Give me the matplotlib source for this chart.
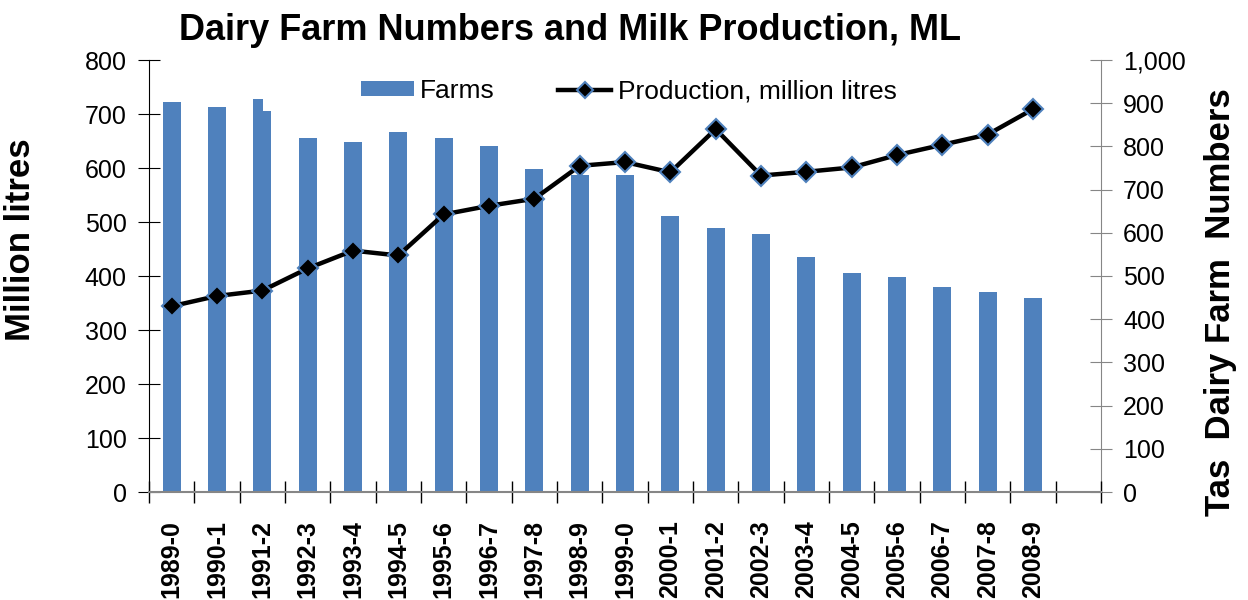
import matplotlib
matplotlib.use("Agg")
import matplotlib.pyplot as plt
from matplotlib.lines import Line2D
from matplotlib.patches import Patch
import numpy as np

plt.rcParams['font.family'] = ['Liberation Sans', 'DejaVu Sans']

years = ["1989-0", "1990-1", "1991-2", "1992-3", "1993-4", "1994-5", "1995-6",
         "1996-7", "1997-8", "1998-9", "1999-0", "2000-1", "2001-2", "2002-3",
         "2003-4", "2004-5", "2005-6", "2006-7", "2007-8", "2008-9"]
farms = [902, 891, 882, 819, 810, 833, 819, 801, 747, 733, 734, 638, 612, 597,
         543, 508, 498, 475, 463, 449]
# 1991-2 is drawn twice in the original (an overlapping second bar)
farms_extra_year = "1991-2"
farms_extra_value = 910
production = [344, 363, 373, 414, 447, 438, 514, 530, 543, 604, 611, 592, 672,
              586, 593, 601, 624, 643, 662, 709]

BLUE = '#4F81BD'
GRAY = '#868686'

fig = plt.figure(figsize=(12.48, 6.0), dpi=100)
ax = fig.add_axes([149/1248, 1-492/600, (1101-149)/1248, (492-60)/600])
ax2 = ax.twinx()

x = np.arange(len(years))
bw = 0.4
ax2.bar(x, farms, width=bw, color=BLUE, zorder=2)
xe = years.index(farms_extra_year)
ax2.bar(xe - bw/2, farms_extra_value, width=0.22, align='edge', color=BLUE, zorder=2)

ax.plot(x, production, color='black', lw=3.2, marker='D', markersize=10,
        markerfacecolor='black', markeredgecolor=BLUE, markeredgewidth=1.5, zorder=3)

ax.set_zorder(ax2.get_zorder() + 1)
ax.patch.set_visible(False)

ax.set_xlim(-0.5, len(years) + 0.5)
ax.set_ylim(0, 800)
ax2.set_ylim(0, 1000)
ax.set_yticks(np.arange(0, 801, 100))
ax2.set_yticks(np.arange(0, 1001, 100))
ax2.set_yticklabels([f"{v:,}" for v in range(0, 1001, 100)])

ax.set_xticks(x)
ax.set_xticklabels(years, rotation=90, fontweight='bold', fontsize=18)
ax.set_xticks(np.arange(-0.5, len(years) + 1, 1), minor=True)
ax.tick_params(axis='x', which='major', length=0, pad=20)
ax.tick_params(axis='x', which='minor', length=16, direction='inout', color='black', width=1)

ax.tick_params(axis='y', which='major', length=16, direction='inout', labelsize=18,
               color='black', pad=8)
ax2.tick_params(axis='y', which='major', length=16, direction='inout', labelsize=18,
                color=GRAY, pad=8)

for a in (ax, ax2):
    a.spines['top'].set_visible(False)
ax.spines['left'].set_color('black')
ax.spines['right'].set_visible(False)
ax2.spines['left'].set_visible(False)
ax2.spines['right'].set_color(GRAY)
ax.spines['bottom'].set_color(GRAY)
ax2.spines['bottom'].set_visible(False)
ax.spines['bottom'].set_linewidth(1.5)

ax.set_ylabel("Million litres", fontsize=25, fontweight='bold')
ax.yaxis.set_label_coords((37 - 149) / 952, (492 - 240) / 432)
ax2.set_ylabel("Tas  Dairy Farm  Numbers", fontsize=25, fontweight='bold', rotation=90)
ax2.yaxis.set_label_coords((1204 - 149) / 952, (492 - 302) / 432)

fig.text(570/1248, 1-31/600, "Dairy Farm Numbers and Milk Production, ML",
         ha='center', va='center', fontsize=26, fontweight='bold')

handles = [Patch(facecolor=BLUE, edgecolor='none'),
           Line2D([0], [0], color='black', lw=3.2, marker='D', markersize=8,
                  markerfacecolor='black', markeredgecolor=BLUE, markeredgewidth=1.5)]
leg = ax.legend(handles, ["Farms", "Production, million litres"], ncol=2, frameon=False,
                loc='center left', bbox_to_anchor=((361 - 149) / 952, (492 - 91) / 432),
                fontsize=19, handlelength=2.0, handleheight=0.5, columnspacing=2.4,
                handletextpad=0.25, borderpad=0, borderaxespad=0)

fig.savefig("out.png", dpi=100)
